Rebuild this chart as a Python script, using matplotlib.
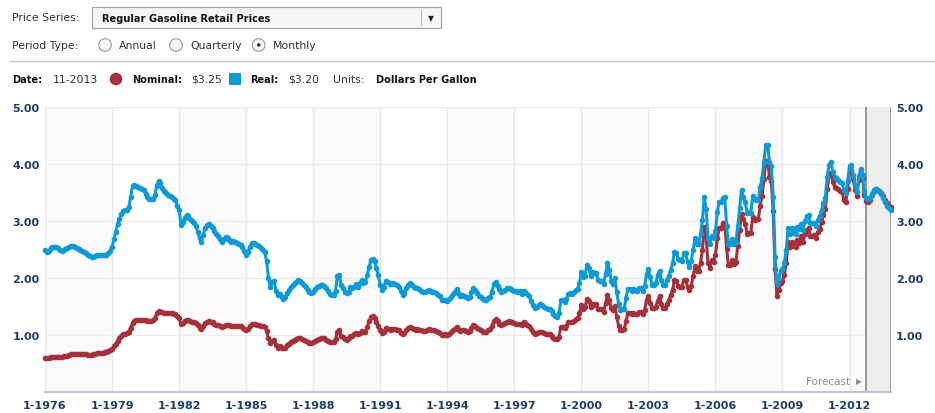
import matplotlib
matplotlib.use("Agg")
import matplotlib.pyplot as plt
from matplotlib.patches import Rectangle, Circle

# Regular gasoline retail prices, dollars per gallon, monthly from 1-1976 to 11-2013
# one row per year (Jan..Dec)
nominal = [
    0.60, 0.59, 0.60, 0.61, 0.62, 0.62, 0.62, 0.62, 0.62, 0.62, 0.63, 0.64,  # 1976
    0.64, 0.65, 0.66, 0.66, 0.66, 0.66, 0.66, 0.66, 0.66, 0.66, 0.66, 0.65,  # 1977
    0.65, 0.65, 0.66, 0.67, 0.68, 0.68, 0.69, 0.69, 0.70, 0.71, 0.72, 0.73,  # 1978
    0.76, 0.80, 0.85, 0.90, 0.94, 0.98, 1.01, 1.02, 1.04, 1.06, 1.13, 1.21,  # 1979
    1.25, 1.26, 1.27, 1.27, 1.27, 1.27, 1.26, 1.25, 1.25, 1.25, 1.26, 1.30,  # 1980
    1.38, 1.42, 1.41, 1.40, 1.39, 1.38, 1.38, 1.38, 1.38, 1.37, 1.36, 1.33,  # 1981
    1.29, 1.19, 1.21, 1.25, 1.27, 1.26, 1.25, 1.23, 1.23, 1.21, 1.17, 1.13,  # 1982
    1.10, 1.15, 1.21, 1.23, 1.24, 1.23, 1.22, 1.20, 1.18, 1.17, 1.15, 1.14,  # 1983
    1.16, 1.18, 1.18, 1.17, 1.16, 1.16, 1.16, 1.15, 1.15, 1.15, 1.14, 1.11,  # 1984
    1.08, 1.11, 1.15, 1.19, 1.19, 1.19, 1.18, 1.18, 1.16, 1.15, 1.14, 1.07,  # 1985
    0.94, 0.86, 0.90, 0.91, 0.82, 0.78, 0.80, 0.77, 0.77, 0.78, 0.83, 0.85,  # 1986
    0.88, 0.90, 0.92, 0.93, 0.95, 0.95, 0.93, 0.92, 0.90, 0.88, 0.86, 0.86,  # 1987
    0.87, 0.89, 0.92, 0.93, 0.94, 0.95, 0.94, 0.92, 0.90, 0.88, 0.87, 0.88,  # 1988
    0.93, 1.06, 1.08, 0.99, 0.96, 0.93, 0.92, 0.94, 0.98, 0.98, 1.01, 1.03,  # 1989
    1.01, 1.04, 1.07, 1.05, 1.06, 1.14, 1.24, 1.31, 1.34, 1.30, 1.23, 1.16,  # 1990
    1.08, 1.03, 1.06, 1.12, 1.11, 1.10, 1.09, 1.11, 1.10, 1.09, 1.08, 1.04,  # 1991
    1.01, 1.03, 1.08, 1.12, 1.14, 1.12, 1.11, 1.09, 1.10, 1.09, 1.08, 1.07,  # 1992
    1.07, 1.08, 1.10, 1.09, 1.08, 1.08, 1.07, 1.06, 1.04, 1.00, 1.00, 1.01,  # 1993
    1.00, 1.02, 1.05, 1.08, 1.11, 1.14, 1.10, 1.07, 1.08, 1.08, 1.07, 1.06,  # 1994
    1.07, 1.13, 1.17, 1.16, 1.12, 1.10, 1.08, 1.06, 1.05, 1.06, 1.08, 1.10,  # 1995
    1.16, 1.25, 1.28, 1.24, 1.20, 1.18, 1.19, 1.21, 1.23, 1.24, 1.22, 1.22,  # 1996
    1.21, 1.20, 1.20, 1.20, 1.17, 1.22, 1.21, 1.18, 1.15, 1.10, 1.05, 1.02,  # 1997
    1.03, 1.05, 1.06, 1.06, 1.04, 1.02, 1.01, 1.02, 0.99, 0.95, 0.93, 0.93,  # 1998
    0.97, 1.14, 1.14, 1.12, 1.16, 1.22, 1.23, 1.23, 1.25, 1.28, 1.30, 1.39,  # 1999
    1.52, 1.46, 1.49, 1.63, 1.59, 1.49, 1.55, 1.53, 1.54, 1.45, 1.45, 1.45,  # 2000
    1.41, 1.56, 1.70, 1.61, 1.47, 1.43, 1.51, 1.32, 1.16, 1.08, 1.09, 1.10,  # 2001
    1.25, 1.38, 1.38, 1.36, 1.38, 1.37, 1.37, 1.41, 1.40, 1.36, 1.44, 1.62,  # 2002
    1.69, 1.57, 1.47, 1.47, 1.50, 1.60, 1.68, 1.54, 1.48, 1.47, 1.55, 1.62,  # 2003
    1.70, 1.79, 1.97, 1.94, 1.86, 1.85, 1.85, 1.97, 1.97, 1.84, 1.79, 1.86,  # 2004
    2.03, 2.21, 2.13, 2.13, 2.27, 2.49, 2.90, 2.72, 2.26, 2.18, 2.31, 2.28,  # 2005
    2.40, 2.70, 2.87, 2.87, 2.96, 2.96, 2.51, 2.22, 2.22, 2.31, 2.24, 2.28,  # 2006
    2.56, 2.85, 3.13, 3.03, 2.95, 2.78, 2.79, 2.79, 3.07, 3.02, 3.04, 3.03,  # 2007
    3.26, 3.44, 3.73, 4.05, 4.06, 3.78, 3.70, 3.17, 2.15, 1.69, 1.79, 1.92,  # 2008
    1.95, 2.05, 2.27, 2.63, 2.54, 2.63, 2.56, 2.55, 2.66, 2.62, 2.73, 2.63,  # 2009
    2.78, 2.85, 2.87, 2.74, 2.74, 2.75, 2.70, 2.80, 2.86, 2.99, 3.10, 3.21,  # 2010
    3.56, 3.80, 3.85, 3.68, 3.60, 3.58, 3.56, 3.53, 3.51, 3.36, 3.33, 3.57,  # 2011
    3.85, 3.90, 3.73, 3.54, 3.44, 3.72, 3.85, 3.75, 3.45, 3.35, 3.34, 3.37,  # 2012
    3.45, 3.52, 3.56, 3.55, 3.53, 3.49, 3.43, 3.37, 3.31, 3.27, 3.25,        # 2013
]

real = [
    2.49, 2.45, 2.47, 2.53, 2.55, 2.55, 2.54, 2.52, 2.50, 2.48, 2.49, 2.51,  # 1976
    2.53, 2.55, 2.56, 2.56, 2.55, 2.53, 2.51, 2.49, 2.47, 2.45, 2.43, 2.41,  # 1977
    2.38, 2.36, 2.37, 2.39, 2.40, 2.40, 2.41, 2.40, 2.40, 2.41, 2.44, 2.48,  # 1978
    2.55, 2.68, 2.81, 2.95, 3.03, 3.13, 3.18, 3.19, 3.20, 3.24, 3.42, 3.61,  # 1979
    3.64, 3.62, 3.60, 3.58, 3.57, 3.54, 3.48, 3.42, 3.39, 3.38, 3.39, 3.45,  # 1980
    3.62, 3.71, 3.66, 3.58, 3.52, 3.49, 3.46, 3.44, 3.42, 3.39, 3.36, 3.27,  # 1981
    3.19, 2.93, 2.98, 3.06, 3.10, 3.08, 3.04, 3.00, 2.97, 2.92, 2.81, 2.70,  # 1982
    2.64, 2.76, 2.88, 2.93, 2.94, 2.92, 2.88, 2.83, 2.78, 2.74, 2.68, 2.64,  # 1983
    2.68, 2.72, 2.70, 2.67, 2.64, 2.65, 2.63, 2.61, 2.60, 2.58, 2.55, 2.47,  # 1984
    2.40, 2.45, 2.55, 2.61, 2.61, 2.60, 2.58, 2.56, 2.52, 2.49, 2.45, 2.29,  # 1985
    2.00, 1.84, 1.93, 1.95, 1.78, 1.70, 1.72, 1.66, 1.64, 1.66, 1.74, 1.79,  # 1986
    1.84, 1.88, 1.91, 1.93, 1.96, 1.95, 1.91, 1.88, 1.84, 1.79, 1.75, 1.73,  # 1987
    1.76, 1.80, 1.84, 1.86, 1.87, 1.88, 1.86, 1.82, 1.77, 1.72, 1.70, 1.71,  # 1988
    1.78, 2.03, 2.05, 1.88, 1.82, 1.76, 1.73, 1.76, 1.84, 1.82, 1.85, 1.89,  # 1989
    1.85, 1.91, 1.96, 1.92, 1.93, 2.05, 2.20, 2.31, 2.34, 2.29, 2.18, 2.05,  # 1990
    1.88, 1.79, 1.85, 1.95, 1.93, 1.90, 1.89, 1.91, 1.89, 1.87, 1.85, 1.78,  # 1991
    1.70, 1.74, 1.82, 1.88, 1.91, 1.88, 1.85, 1.82, 1.82, 1.81, 1.78, 1.76,  # 1992
    1.76, 1.77, 1.79, 1.78, 1.76, 1.75, 1.73, 1.71, 1.68, 1.61, 1.61, 1.62,  # 1993
    1.60, 1.63, 1.67, 1.72, 1.76, 1.80, 1.74, 1.68, 1.70, 1.69, 1.67, 1.65,  # 1994
    1.66, 1.76, 1.82, 1.79, 1.73, 1.69, 1.66, 1.63, 1.61, 1.62, 1.65, 1.67,  # 1995
    1.76, 1.89, 1.93, 1.86, 1.80, 1.76, 1.77, 1.79, 1.82, 1.83, 1.81, 1.79,  # 1996
    1.78, 1.77, 1.76, 1.77, 1.72, 1.78, 1.76, 1.72, 1.68, 1.60, 1.52, 1.48,  # 1997
    1.50, 1.52, 1.54, 1.53, 1.50, 1.47, 1.45, 1.46, 1.42, 1.36, 1.33, 1.32,  # 1998
    1.38, 1.61, 1.61, 1.58, 1.64, 1.72, 1.73, 1.72, 1.75, 1.79, 1.81, 1.92,  # 1999
    2.10, 2.01, 2.04, 2.23, 2.18, 2.03, 2.11, 2.08, 2.08, 1.96, 1.94, 1.94,  # 2000
    1.89, 2.07, 2.26, 2.14, 1.95, 1.90, 2.00, 1.75, 1.55, 1.44, 1.45, 1.46,  # 2001
    1.65, 1.81, 1.81, 1.78, 1.81, 1.79, 1.78, 1.83, 1.82, 1.77, 1.86, 2.07,  # 2002
    2.16, 2.01, 1.88, 1.88, 1.92, 2.05, 2.13, 1.96, 1.88, 1.88, 1.97, 2.04,  # 2003
    2.14, 2.26, 2.46, 2.43, 2.33, 2.31, 2.29, 2.44, 2.44, 2.28, 2.20, 2.29,  # 2004
    2.50, 2.70, 2.60, 2.60, 2.77, 3.01, 3.42, 3.21, 2.69, 2.59, 2.74, 2.70,  # 2005
    2.83, 3.16, 3.33, 3.33, 3.40, 3.42, 2.91, 2.60, 2.60, 2.69, 2.60, 2.63,  # 2006
    2.92, 3.23, 3.54, 3.42, 3.33, 3.14, 3.15, 3.14, 3.44, 3.38, 3.37, 3.36,  # 2007
    3.59, 3.75, 4.03, 4.33, 4.34, 4.04, 3.96, 3.42, 2.37, 1.89, 1.99, 2.13,  # 2008
    2.15, 2.26, 2.50, 2.87, 2.77, 2.87, 2.79, 2.78, 2.90, 2.86, 2.95, 2.84,  # 2009
    3.00, 3.08, 3.10, 2.96, 2.96, 2.97, 2.92, 3.02, 3.09, 3.20, 3.32, 3.40,  # 2010
    3.77, 3.99, 4.04, 3.86, 3.77, 3.75, 3.72, 3.68, 3.66, 3.55, 3.49, 3.70,  # 2011
    3.97, 3.98, 3.80, 3.61, 3.51, 3.79, 3.91, 3.81, 3.52, 3.40, 3.38, 3.40,  # 2012
    3.47, 3.54, 3.57, 3.55, 3.52, 3.47, 3.40, 3.33, 3.27, 3.22, 3.20,        # 2013
]

first_year = 1976
forecast_start = (2012, 10)  # month where the forecast begins
tick_years = list(range(1976, 2013, 3))
y_ticks = [1, 2, 3, 4, 5]

RED = "#a4313c"
BLUE = "#0e9ad6"
NAVY = "#1c3c6c"
W, H = 935, 414

fig = plt.figure(figsize=(W / 100, H / 100), dpi=100)

# overlay in pixel coordinates for the form controls above the chart
ov = fig.add_axes([0, 0, 1, 1])
ov.set_xlim(0, W)
ov.set_ylim(H, 0)
ov.axis("off")

txt = dict(fontsize=7.8, color="#333333", va="center", ha="left")
bold = dict(fontsize=7.1, color="#111111", va="center", ha="left", fontweight="bold")

ov.text(12.5, 18, "Price Series:", **txt)
ov.add_patch(Rectangle((92, 8), 349, 21, facecolor="#f6f6f6", edgecolor="#a8a8a8", lw=0.9))
ov.text(101.5, 18.5, "Regular Gasoline Retail Prices", **bold)
ov.plot([420.5, 420.5], [11, 26], color="#b8b8b8", lw=0.8)
ov.text(430.5, 19, "\u25BC", fontsize=5.5, color="#222222", ha="center", va="center")

ov.text(12.5, 46, "Period Type:", **txt)
for cx, lab in [(105, "Annual"), (176, "Quarterly"), (258.7, "Monthly")]:
    ov.add_patch(Circle((cx, 46), 6.3, facecolor="#f8f8f8", edgecolor="#9a9a9a", lw=0.8))
    ov.text(cx + 14, 46, lab, **txt)
ov.add_patch(Circle((258.7, 46), 1.8, facecolor="#333333", edgecolor="none"))

ov.plot([10, W], [61.7, 61.7], color="#c4c4c4", lw=1.0)

ov.text(12.5, 80, "Date:", **bold)
ov.text(53, 80, "11-2013", **txt)
ov.add_patch(Circle((116, 80), 6.3, facecolor=RED, edgecolor="none"))
ov.text(132.5, 80, "Nominal:", **bold)
ov.text(191.5, 80, "$%.2f" % nominal[-1], **txt)
ov.add_patch(Rectangle((229, 74), 12, 12, facecolor=BLUE, edgecolor="none"))
ov.text(250.5, 80, "Real:", **bold)
ov.text(288.5, 80, "$%.2f" % real[-1], **txt)
ov.text(333, 80, "Units:", **txt)
ov.text(376.5, 80, "Dollars Per Gallon", **bold)

# main chart
left, right, top, bottom = 45, 890.5, 108, 393
ax = fig.add_axes([left / W, (H - bottom) / H, (right - left) / W, (bottom - top) / H])
n = len(nominal)
x = list(range(n))
ax.set_xlim(0, n - 1)
ax.set_ylim(0, 5)

# alternating three-year bands
for i, yr in enumerate(range(first_year, 2014, 3)):
    if i % 2 == 0:
        a = (yr - first_year) * 12
        ax.axvspan(a, min(a + 36, n - 1), color="#fafafa", lw=0, zorder=0)

fc = (forecast_start[0] - first_year) * 12 + forecast_start[1] - 1
ax.axvspan(fc, n - 1, color="#eeeeee", lw=0, zorder=0.5)

for yv in y_ticks:
    ax.axhline(yv, color="#ececec", lw=1.0, zorder=1)
for yr in tick_years:
    ax.axvline((yr - first_year) * 12, color="#e8e8e8", lw=1.0, zorder=1)
ax.axvline(fc, color="#8a8a8a", lw=1.2, zorder=1.5)
ax.axvline(n - 1, color="#8a8a8a", lw=1.2, zorder=1.5)

ax.plot(x, nominal, color=RED, lw=2.2, marker="o", ms=3.0, mec=RED, zorder=3, clip_on=False)
ax.plot(x, real, color=BLUE, lw=2.2, marker="o", ms=3.0, mec=BLUE, zorder=4, clip_on=False)

for s in ["top", "left", "right"]:
    ax.spines[s].set_visible(False)
ax.spines["bottom"].set_color("#bcc6d4")
ax.spines["bottom"].set_linewidth(1.5)
ax.spines["bottom"].set_zorder(5)

ax.set_xticks([(yr - first_year) * 12 for yr in tick_years])
ax.set_xticklabels(["1-%d" % yr for yr in tick_years])
ax.set_yticks(y_ticks)
ax.set_yticklabels(["%.2f" % v for v in y_ticks])
ax.tick_params(axis="x", length=0, pad=6, labelsize=8, labelcolor=NAVY)
ax.tick_params(axis="y", length=0, pad=4, labelsize=8, labelcolor=NAVY,
               labelleft=True, labelright=True)
for lab in ax.get_xticklabels() + ax.get_yticklabels():
    lab.set_fontweight("bold")

ax.text(850, 382, "Forecast", transform=ov.transData, fontsize=7.5, color="#8c8c8c",
        ha="right", va="center", zorder=6)
ax.text(859, 381.5, "\u25B6", transform=ov.transData, fontsize=5.5, color="#8c8c8c",
        ha="center", va="center", zorder=6)

fig.savefig("out.png", dpi=100)
